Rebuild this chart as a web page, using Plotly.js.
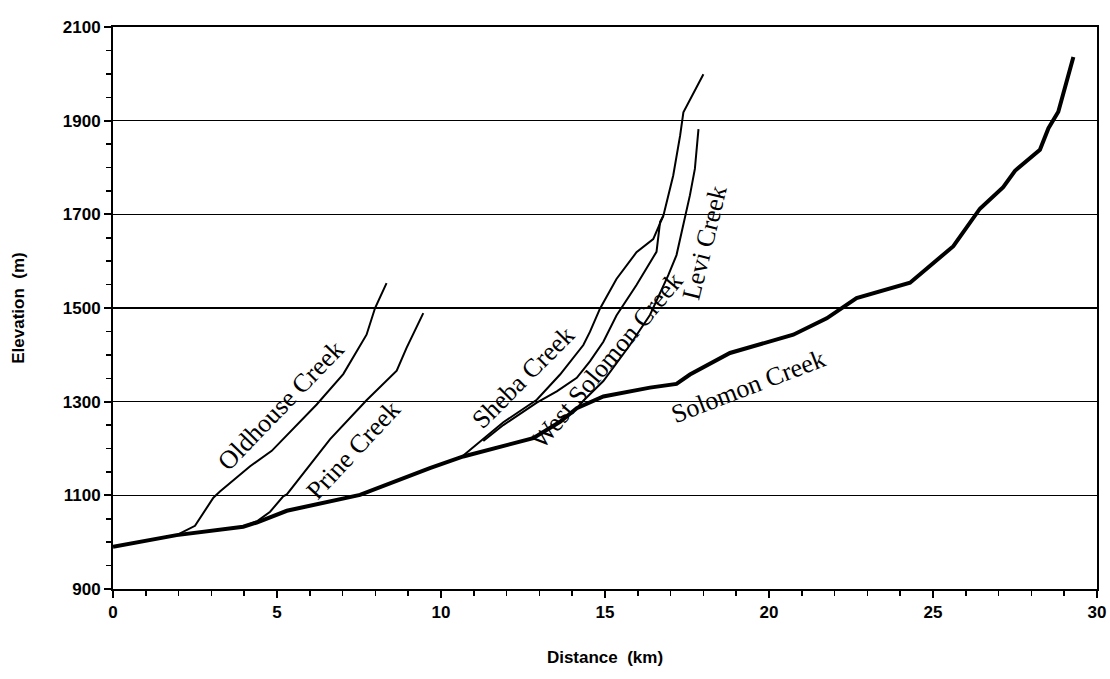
<!DOCTYPE html>
<html>
<head>
<meta charset="utf-8">
<script src="https://cdn.plot.ly/plotly-3.0.1.min.js"></script>
<style>html,body{margin:0;padding:0;background:#fff;}#chart{width:1110px;height:679px;}</style>
</head>
<body>
<div id="chart"></div>
<script>
// Distance (km) / Elevation (m) profiles
const solomonX = [0, 1.94, 3.97, 4.38, 5.3, 6.72, 7.53, 9.66, 10.68, 12.81, 13.43, 13.63, 14.14, 14.95, 16.37, 17.18, 17.59, 18.81, 20.74, 21.76, 22.67, 24.3, 25.62, 26.43, 27.14, 27.5, 28.26, 28.52, 28.82, 29.28];
const solomonY = [990, 1015, 1033, 1042, 1067, 1088, 1101, 1158, 1183, 1222, 1247, 1257, 1286, 1311, 1330, 1338, 1358, 1404, 1443, 1478, 1521, 1554, 1632, 1712, 1758, 1793, 1838, 1884, 1919, 2036];

const oldhouseX = [1.94, 2.5, 3.06, 3.26, 4.18, 4.84, 6.21, 7.02, 7.73, 7.99, 8.34];
const oldhouseY = [1015, 1035, 1095, 1108, 1162, 1195, 1294, 1359, 1443, 1500, 1553];

const prineX = [3.97, 4.4, 4.79, 5.19, 5.3, 6.62, 7.73, 8.65, 8.95, 9.46];
const prineY = [1033, 1045, 1065, 1098, 1102, 1220, 1303, 1366, 1415, 1489];

const shebaX = [10.68, 11.29, 11.9, 12.92, 13.63, 14.34, 14.54, 14.85, 15.35, 15.96, 16.47, 16.78, 17.08, 17.29, 17.39, 18.0];
const shebaY = [1185, 1221, 1256, 1304, 1358, 1421, 1449, 1499, 1562, 1619, 1647, 1697, 1783, 1868, 1918, 1999];

const westSolomonX = [11.29, 11.9, 12.92, 13.53, 14.14, 14.54, 14.95, 15.35, 15.96, 16.57, 16.68, 16.78];
const westSolomonY = [1216, 1250, 1298, 1322, 1351, 1386, 1428, 1484, 1549, 1620, 1684, 1697];

const leviX = [14.14, 14.34, 14.95, 15.76, 16.37, 16.93, 17.18, 17.39, 17.59, 17.74, 17.85];
const leviY = [1286, 1302, 1344, 1421, 1485, 1570, 1613, 1677, 1741, 1797, 1882];

const creekNames = ["Oldhouse Creek", "Prine Creek", "Sheba Creek", "West Solomon Creek", "Levi Creek", "Solomon Creek"];

function thin(x, y, name) {
  return {x: x, y: y, name: name, type: 'scatter', mode: 'lines',
          line: {color: '#000', width: 2}, hoverinfo: 'skip'};
}

const traces = [
  thin(oldhouseX, oldhouseY, creekNames[0]),
  thin(prineX, prineY, creekNames[1]),
  thin(shebaX, shebaY, creekNames[2]),
  thin(westSolomonX, westSolomonY, creekNames[3]),
  thin(leviX, leviY, creekNames[4]),
  {x: solomonX, y: solomonY, name: creekNames[5], type: 'scatter', mode: 'lines',
   line: {color: '#000', width: 4}, hoverinfo: 'skip'}
];

const labelFont = {family: 'Liberation Serif, DejaVu Serif, serif', size: 26, color: '#000'};
function lab(text, x, y, ang) {
  return {text: text, x: x, y: y, xref: 'x', yref: 'y', showarrow: false,
          textangle: ang, font: labelFont};
}

const tickFont = {family: 'Liberation Sans, Arial, sans-serif', size: 17, color: '#000', weight: 'bold'};
const titleFont = {family: 'Liberation Sans, Arial, sans-serif', size: 17, color: '#000', weight: 'bold'};

const layout = {
  width: 1110, height: 679,
  margin: {l: 113, r: 13, t: 27, b: 90},
  paper_bgcolor: '#fff', plot_bgcolor: '#fff',
  showlegend: false,
  xaxis: {
    range: [0, 30], tick0: 0, dtick: 5,
    showline: true, linecolor: '#000', linewidth: 2, mirror: true,
    ticks: 'outside', ticklen: 7, tickwidth: 2, tickcolor: '#000',
    minor: {dtick: 1, ticks: 'outside', ticklen: 5, tickwidth: 1.5, tickcolor: '#000', showgrid: false},
    showgrid: false, zeroline: false,
    tickfont: tickFont,
    title: {text: 'Distance  (km)', font: titleFont, standoff: 30}
  },
  yaxis: {
    range: [900, 2100], tick0: 900, dtick: 200,
    showline: true, linecolor: '#000', linewidth: 2, mirror: true,
    ticks: 'outside', ticklen: 7, tickwidth: 2, tickcolor: '#000',
    minor: {dtick: 50, ticks: 'outside', ticklen: 5, tickwidth: 1.5, tickcolor: '#000', showgrid: false},
    showgrid: true, gridcolor: '#000', gridwidth: 1.2, zeroline: false,
    tickfont: tickFont,
    title: {text: 'Elevation  (m)', font: titleFont, standoff: 34}
  },
  annotations: [
    lab(creekNames[0], 5.12, 1291, -46),
    lab(creekNames[1], 7.32, 1195, -47),
    lab(creekNames[2], 12.5, 1352, -45),
    lab(creekNames[3], 15.06, 1387, -50),
    lab(creekNames[4], 18.05, 1639, -76),
    lab(creekNames[5], 19.36, 1333, -21)
  ]
};

Plotly.newPlot('chart', traces, layout, {displayModeBar: false, staticPlot: true});
</script>
</body>
</html>
